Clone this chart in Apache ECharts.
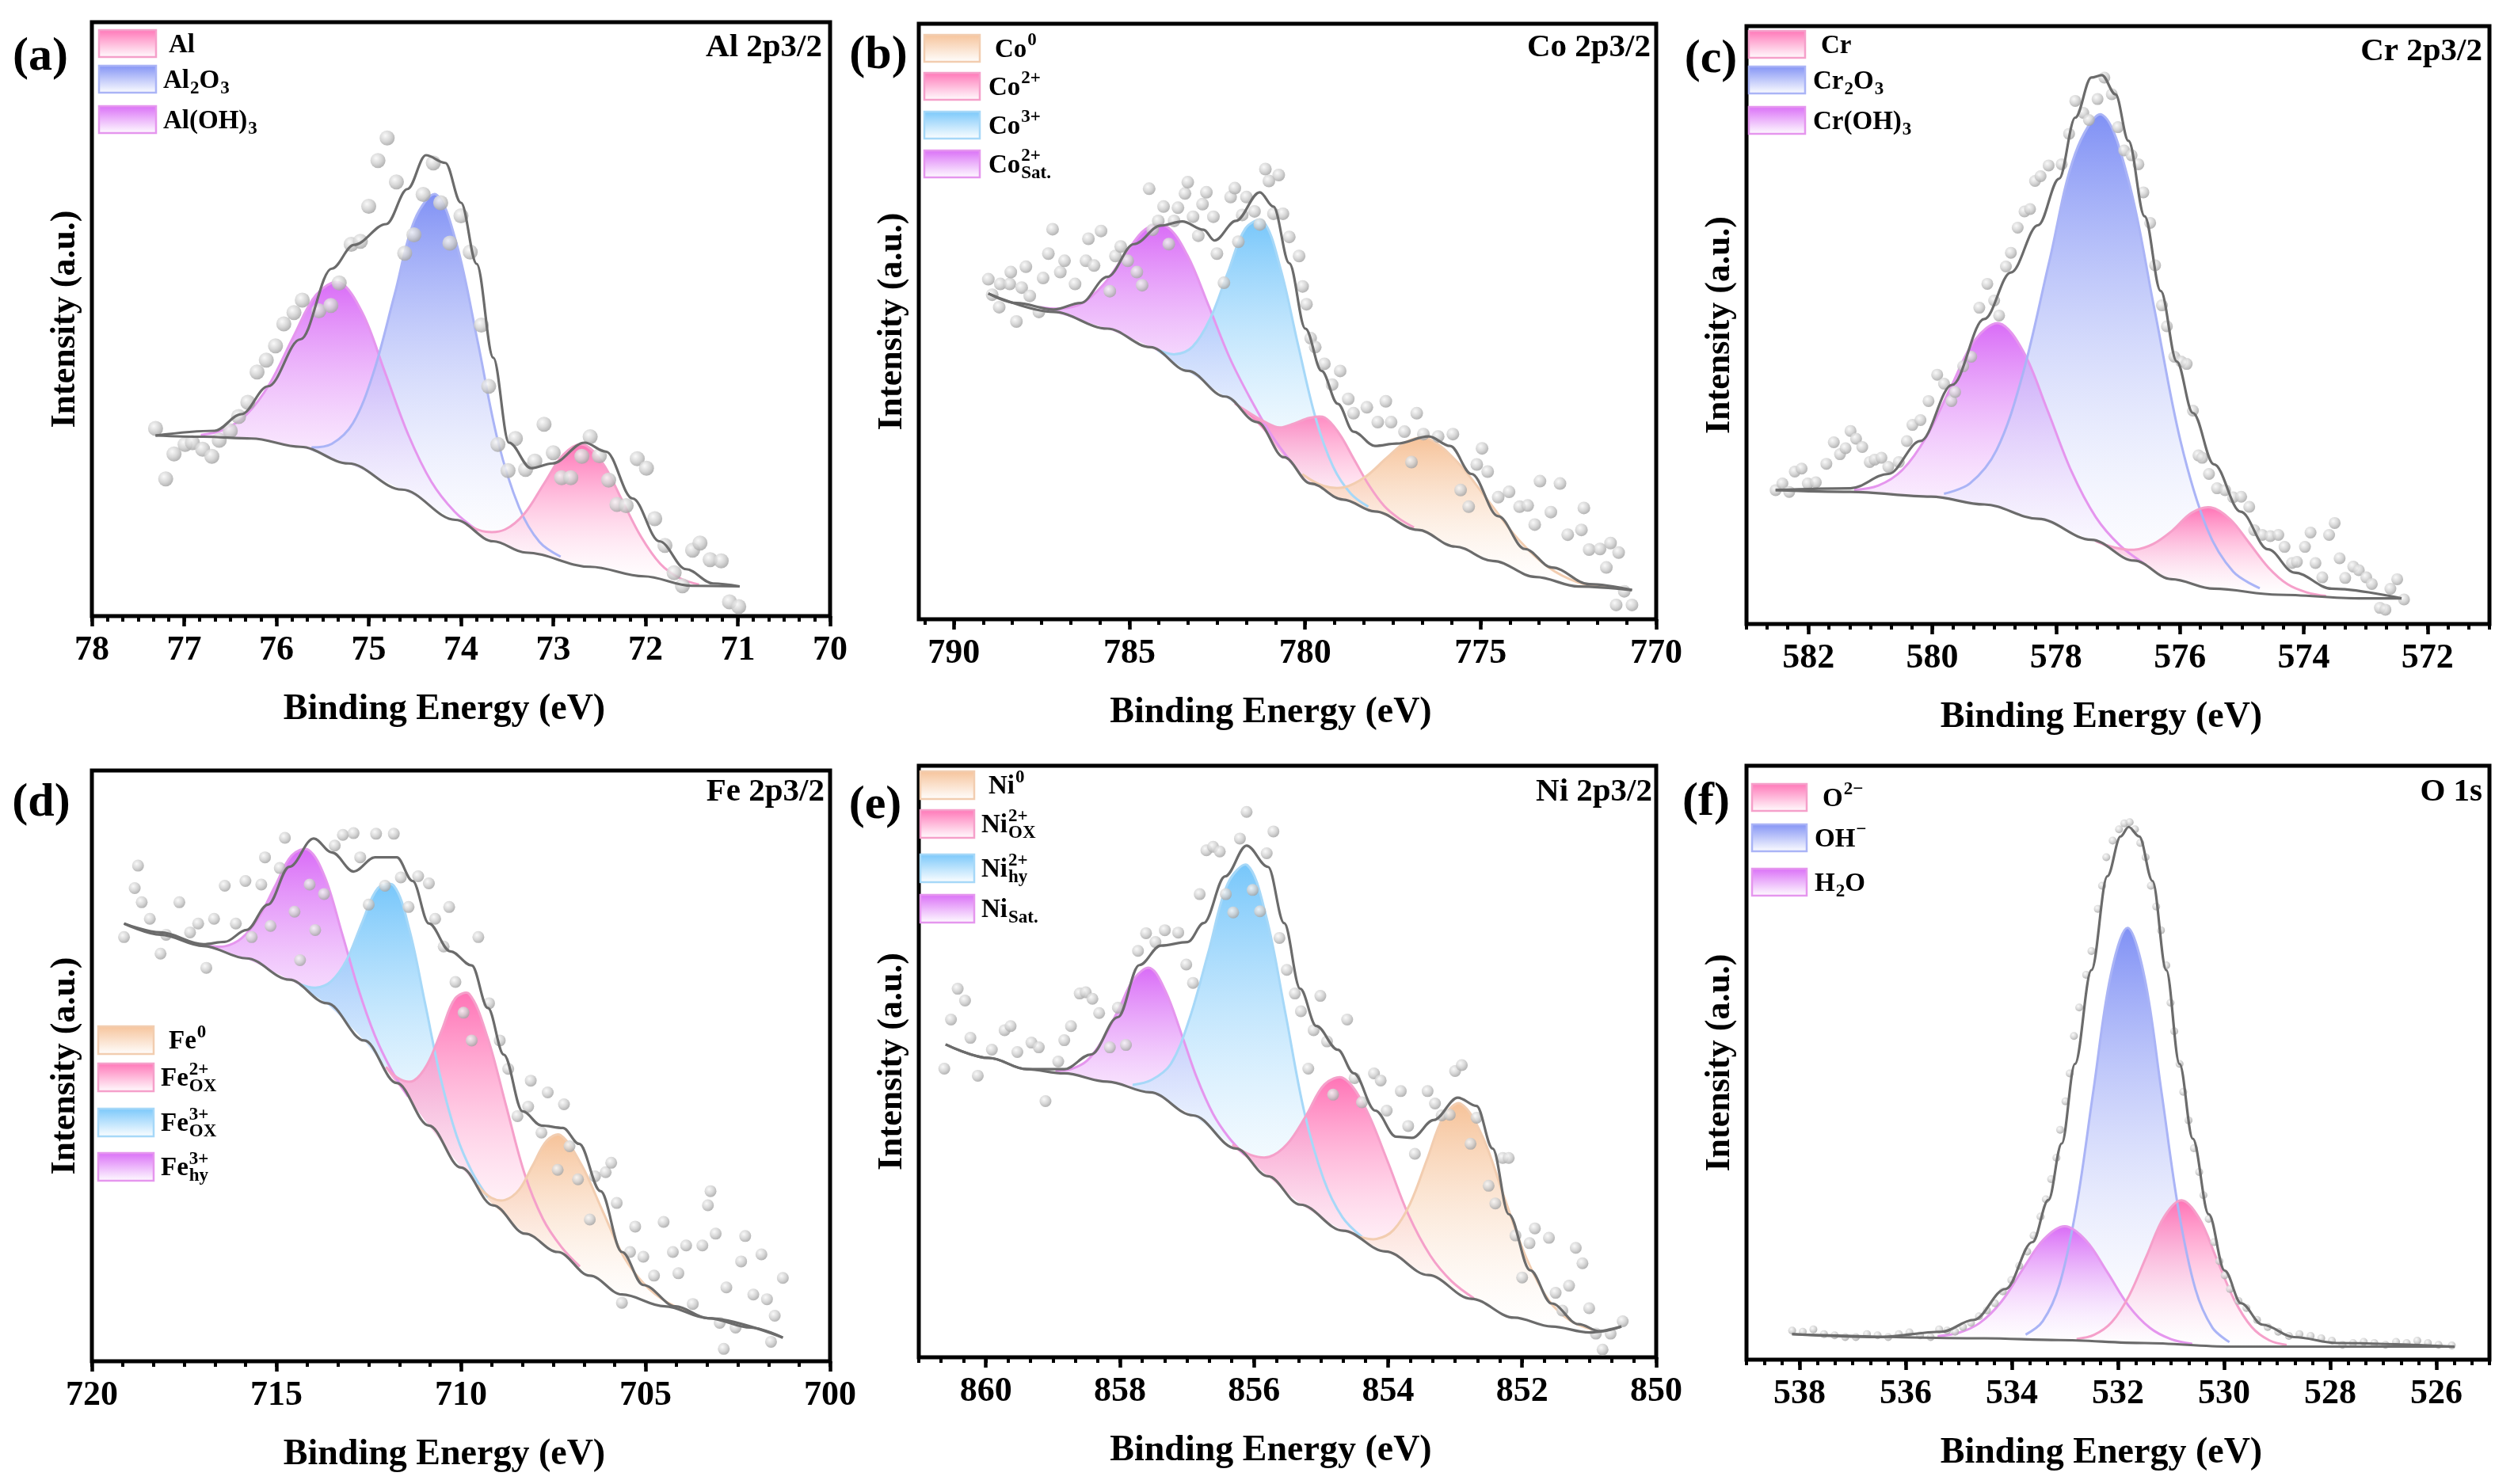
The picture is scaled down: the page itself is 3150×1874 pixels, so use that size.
<!DOCTYPE html>
<html>
<head>
<meta charset="utf-8">
<script src="https://cdn.jsdelivr.net/npm/echarts@6/dist/echarts.min.js"></script>
<style>
  html, body { margin: 0; padding: 0; background: #fff; }
  #chart { width: 3150px; height: 1874px; }
</style>
</head>
<body>
<div id="chart"></div>
<script>
// ---------- tick labels ----------
const AL_TICKS = [70, 71, 72, 73, 74, 75, 76, 77, 78];
const CO_TICKS = [770, 775, 780, 785, 790];
const CR_TICKS = [572, 574, 576, 578, 580, 582];
const FE_TICKS = [700, 705, 710, 715, 720];
const NI_TICKS = [850, 852, 854, 856, 858, 860];
const O_TICKS = [526, 528, 530, 532, 534, 536, 538];

// ---------- (a) Al 2p3/2 ----------  [binding energy, intensity]
const alDots = [[77.31,31.6],[77.20,23.1],[77.11,27.3],[76.99,28.9],[76.91,29.2],[76.80,28.1],[76.70,26.9],[76.62,29.6],[76.50,31.2],[76.41,33.6],[76.31,36.0],[76.21,41.1],[76.11,43.1],[76.01,45.5],[75.92,49.2],[75.81,51.1],[75.72,53.2],[75.54,51.4],[75.41,52.3],[75.32,56.1],[75.19,62.6],[75.09,63.1],[75.00,69.0],[74.90,76.7],[74.80,80.5],[74.70,73.1],[74.61,61.1],[74.51,64.2],[74.41,71.0],[74.30,76.3],[74.22,69.6],[74.12,62.8],[74.00,67.4],[73.90,61.3],[73.78,49.0],[73.70,38.7],[73.60,28.9],[73.49,24.5],[73.41,29.9],[73.30,24.7],[73.20,26.1],[73.10,32.3],[73.00,27.5],[72.91,23.3],[72.81,23.3],[72.69,26.9],[72.60,30.2],[72.50,27.0],[72.40,22.9],[72.31,18.8],[72.21,18.6],[72.09,26.5],[71.99,24.9],[71.90,16.4],[71.79,11.9],[71.69,7.3],[71.60,5.1],[71.49,11.1],[71.41,12.3],[71.30,9.5],[71.18,9.3],[71.09,2.4],[70.99,1.6]];
const alBackground = [[77.31,30.4],[76.79,30.2],[76.27,29.9],[75.74,28.5],[75.22,25.7],[74.64,21.3],[74.06,16.2],[73.65,12.6],[73.30,10.7],[72.60,8.3],[72.02,6.7],[71.50,5.1],[70.98,5.0]];
const alEnvelope = [[77.31,30.4],[76.67,31.2],[76.38,34.0],[76.09,38.7],[75.74,46.6],[75.40,58.5],[75.16,62.5],[74.81,66.0],[74.58,71.9],[74.38,77.6],[74.17,76.3],[74.00,69.6],[73.83,59.3],[73.65,43.5],[73.48,29.2],[73.24,24.9],[73.01,25.7],[72.66,29.2],[72.43,27.7],[72.14,19.8],[71.85,12.6],[71.56,7.9],[71.27,5.5],[70.98,5.0]];
// peaks: [binding energy, background under the peak, peak height above background]
const alOH3Peak = [[76.82,30.2,0.3],[76.57,30.1,1.3],[76.32,29.9,4.1],[76.07,29.4,9.8],[75.82,28.7,18.2],[75.57,27.6,26.5],[75.32,26.2,30],[75.07,24.6,26.5],[74.82,22.7,18.2],[74.57,20.7,9.8],[74.32,18.5,4.1],[74.07,16.3,1.3],[73.82,14.1,0.3]];
const al2O3Peak = [[75.62,27.8,0.6],[75.40,26.7,2.3],[75.17,25.3,7.2],[74.95,23.7,17.2],[74.72,21.9,32.2],[74.50,20.1,46.7],[74.27,18.0,53],[74.05,16.1,46.7],[73.82,14.1,32.2],[73.60,12.3,17.2],[73.37,11.1,7.2],[73.15,10.2,2.3],[72.92,9.4,0.6]];
const alMetalPeak = [[73.94,15.2,0.2],[73.73,13.3,0.9],[73.52,11.9,2.7],[73.31,10.7,6.6],[73.10,10.0,12.3],[72.89,9.3,17.9],[72.68,8.6,20.3],[72.47,8.0,17.9],[72.26,7.4,12.3],[72.05,6.8,6.6],[71.84,6.1,2.7],[71.63,5.5,0.9],[71.42,5.1,0.2]];

// ---------- (b) Co 2p3/2 ----------
const coDots = [[789.02,57.1],[788.91,54.5],[788.71,52.4],[788.68,56.3],[788.41,56.3],[788.38,58.3],[788.22,50.0],[788.07,55.7],[787.95,59.2],[787.84,54.3],[787.58,51.6],[787.46,57.3],[787.31,61.4],[787.19,65.5],[786.97,58.3],[786.85,60.2],[786.55,56.3],[786.24,60.2],[786.17,63.9],[786.01,59.4],[785.81,65.2],[785.56,55.1],[785.40,61.0],[785.25,62.6],[785.05,60.2],[784.79,58.3],[784.64,56.1],[784.44,72.3],[784.34,65.4],[784.18,66.9],[784.03,69.3],[783.88,63.0],[783.73,66.9],[783.62,69.1],[783.42,71.5],[783.34,73.4],[783.19,67.6],[783.04,64.4],[782.92,69.7],[782.81,71.7],[782.61,67.6],[782.51,61.4],[782.31,56.5],[782.12,70.9],[782.00,72.4],[781.90,63.4],[781.79,67.9],[781.67,70.9],[781.44,68.5],[781.29,66.3],[781.13,75.6],[781.03,73.6],[780.90,68.1],[780.75,74.6],[780.63,68.1],[780.45,64.2],[780.17,61.0],[780.07,55.9],[779.96,52.9],[779.84,47.2],[779.71,45.7],[779.45,42.9],[779.23,39.4],[779.00,41.7],[778.77,37.0],[778.62,34.6],[778.24,35.6],[777.93,33.1],[777.70,36.6],[777.55,33.1],[777.17,31.5],[776.97,26.4],[776.82,34.6],[776.63,31.1],[776.21,30.7],[775.79,31.1],[775.57,21.7],[775.34,18.9],[775.11,26.0],[774.96,28.7],[774.80,24.8],[774.50,20.5],[774.19,21.4],[773.89,18.9],[773.66,19.1],[773.46,15.9],[773.31,23.2],[773.00,18.0],[772.74,22.8],[772.52,14.2],[772.13,15.0],[772.06,18.7],[771.91,11.7],[771.60,11.8],[771.42,8.7],[771.30,12.8],[771.07,11.2],[770.91,4.7],[770.69,2.4],[771.14,2.4]];
const coBackground = [[789.02,54.7],[787.16,51.6],[785.63,48.8],[784.41,45.7],[783.34,41.7],[782.28,37.4],[781.36,33.1],[780.60,27.2],[779.84,22.8],[778.92,20.1],[778.01,18.1],[776.79,15.0],[775.72,12.2],[774.65,9.8],[773.43,7.1],[772.21,5.5],[770.69,4.9]];
const coEnvelope = [[789.02,54.7],[788.22,53.1],[787.16,52.0],[786.39,53.1],[785.63,57.5],[784.87,63.0],[784.11,66.1],[783.50,66.8],[782.89,65.4],[782.58,63.6],[781.97,66.9],[781.29,71.7],[780.90,69.3],[780.45,59.8],[779.99,48.8],[779.53,41.7],[779.07,36.2],[778.62,31.5],[778.01,29.1],[777.40,29.5],[776.48,30.7],[775.87,29.1],[775.26,24.4],[774.50,17.3],[773.74,11.8],[772.97,8.7],[771.91,5.9],[770.69,4.9]];
const coSatPeak = [[787.55,52.2,0.24],[786.95,51.2,0.97],[786.35,50.1,2.97],[785.75,49.0,7.15],[785.15,47.6,13.4],[784.55,46.1,19.4],[783.95,44.0,22],[783.35,41.7,19.4],[782.75,39.3,13.4],[782.15,36.8,7.15],[781.55,34.0,2.97],[780.95,29.9,0.97],[780.35,25.8,0.24]];
const co3Peak = [[784.2,44.9,0.4],[783.7,43.0,1.5],[783.2,41.1,4.7],[782.7,39.1,11.4],[782.2,37.0,21.2],[781.7,34.7,30.9],[781.2,31.9,35],[780.7,28.0,30.9],[780.2,24.9,21.2],[779.7,22.4,11.4],[779.2,20.9,4.7],[778.7,19.6,1.5],[778.2,18.5,0.4]];
const co2Peak = [[782.0,36.1,0.13],[781.58,34.1,0.54],[781.15,31.5,1.65],[780.73,28.2,4.0],[780.3,25.5,7.4],[779.88,23.0,10.8],[779.45,21.7,12.2],[779.03,20.4,10.8],[778.6,19.4,7.4],[778.18,18.5,4.0],[777.75,17.4,1.65],[777.33,16.4,0.54],[776.9,15.3,0.13]];
const co0Peak = [[780.08,24.2,0.18],[779.48,21.7,0.71],[778.88,20.0,2.17],[778.28,18.7,5.23],[777.68,17.3,9.77],[777.08,15.7,14.2],[776.48,14.2,16.1],[775.63,12.0,14.2],[774.78,10.1,9.77],[773.93,8.2,5.23],[773.08,6.6,2.17],[772.23,5.5,0.71],[771.38,5.2,0.18]];

// ---------- (c) Cr 2p3/2 ----------
const crDots = [[582.53,22.4],[582.42,23.5],[582.31,22.1],[582.22,25.5],[582.11,26.0],[582.01,23.5],[581.88,23.7],[581.71,26.8],[581.59,30.4],[581.49,28.4],[581.40,29.4],[581.32,32.3],[581.23,31.0],[581.13,29.6],[581.01,27.1],[580.93,27.5],[580.82,27.8],[580.71,26.3],[580.54,27.1],[580.41,30.6],[580.32,33.3],[580.19,34.1],[580.06,37.3],[579.92,41.7],[579.81,40.2],[579.69,37.3],[579.63,38.8],[579.50,43.1],[579.37,44.7],[579.24,52.9],[579.11,56.9],[579.00,54.1],[578.92,51.6],[578.81,59.8],[578.73,62.1],[578.62,66.3],[578.51,69.0],[578.42,69.4],[578.34,74.1],[578.25,74.9],[578.12,76.7],[577.91,76.9],[577.79,82.0],[577.69,87.5],[577.56,85.5],[577.47,84.3],[577.33,87.8],[577.22,91.4],[577.10,88.6],[577.00,83.1],[576.90,79.2],[576.78,78.4],[576.67,76.9],[576.59,72.2],[576.48,67.1],[576.40,60.0],[576.29,53.3],[576.21,49.8],[576.09,44.7],[575.98,43.9],[575.89,43.5],[575.79,35.7],[575.70,28.2],[575.64,27.8],[575.53,25.1],[575.40,22.7],[575.27,22.4],[575.14,21.2],[575.01,21.3],[574.88,19.6],[574.80,15.7],[574.67,14.9],[574.54,14.7],[574.41,14.9],[574.31,12.9],[574.19,10.2],[574.11,10.4],[573.98,12.9],[573.89,15.3],[573.81,10.2],[573.70,7.8],[573.59,14.9],[573.50,16.9],[573.42,11.0],[573.33,7.7],[573.20,9.6],[573.11,9.0],[572.99,7.8],[572.90,6.7],[572.77,2.7],[572.68,2.4],[572.60,5.9],[572.49,7.5],[572.38,4.1]];
const crBackground = [[582.53,22.4],[581.32,22.1],[580.02,21.3],[579.16,20.0],[578.29,17.6],[577.43,14.1],[576.74,10.6],[576.14,7.5],[575.45,5.9],[574.41,4.9],[573.11,4.3],[572.42,4.3]];
const crEnvelope = [[582.53,22.4],[581.32,22.7],[580.71,25.1],[580.19,30.6],[579.68,40.0],[579.16,51.0],[578.73,58.8],[578.29,66.7],[577.95,74.5],[577.69,84.7],[577.43,91.4],[577.26,91.8],[577.04,88.6],[576.83,80.8],[576.57,68.2],[576.31,55.7],[576.05,43.9],[575.79,35.3],[575.45,26.7],[575.02,18.8],[574.58,12.5],[574.15,8.6],[573.55,5.9],[572.42,4.3]];
const crOH3Peak = [[581.26,22.1,0.34],[580.87,21.8,1.36],[580.48,21.6,4.2],[580.09,21.3,10.1],[579.70,20.8,18.8],[579.31,20.2,27.3],[578.92,19.3,31],[578.53,18.3,27.3],[578.14,17.0,18.8],[577.75,15.4,10.1],[577.36,13.7,4.2],[576.97,11.8,1.36],[576.58,9.8,0.34]];
const cr2O3Peak = [[579.81,21.0,0.79],[579.39,20.35,3.17],[578.96,19.4,9.72],[578.54,18.3,23.4],[578.11,16.9,43.7],[577.69,15.2,63.5],[577.26,13.2,72],[576.84,11.1,63.5],[576.41,8.9,43.7],[575.99,7.2,23.4],[575.56,6.2,9.72],[575.14,5.6,3.17],[574.71,5.2,0.79]];
const crMetalPeak = [[577.36,13.7,0.15],[577.05,12.2,0.59],[576.74,10.6,1.82],[576.43,9.0,4.4],[576.12,7.45,8.2],[575.81,6.7,11.9],[575.5,6.0,13.5],[575.19,5.65,11.9],[574.88,5.35,8.2],[574.57,5.05,4.4],[574.26,4.83,1.82],[573.95,4.7,0.59],[573.64,4.55,0.15]];

// ---------- (d) Fe 2p3/2 ----------
const feDots = [[719.13,71.8],[718.84,80.1],[718.75,83.9],[718.65,77.7],[718.43,74.9],[718.14,69.0],[717.99,72.2],[717.63,77.7],[717.34,72.6],[717.12,74.1],[716.90,66.6],[716.69,74.9],[716.40,80.5],[716.10,74.1],[715.84,81.3],[715.67,71.8],[715.41,80.7],[715.31,85.3],[715.16,73.7],[714.91,83.5],[714.77,88.6],[714.51,76.1],[714.36,67.9],[714.10,80.7],[713.95,73.0],[713.71,79.1],[713.42,87.3],[713.20,89.1],[712.91,89.4],[712.73,85.3],[712.50,77.3],[712.30,89.3],[712.06,80.5],[711.82,89.3],[711.63,81.9],[711.42,76.9],[711.16,82.1],[710.87,80.9],[710.70,74.9],[710.47,70.2],[710.32,76.9],[710.15,64.2],[709.93,59.0],[709.71,54.3],[709.53,71.8],[709.24,60.6],[708.95,54.3],[708.72,49.5],[708.47,41.5],[708.18,43.1],[708.11,47.5],[707.82,38.7],[707.65,45.5],[707.38,32.4],[707.21,43.5],[707.06,36.4],[706.83,30.8],[706.51,24.0],[706.37,31.3],[706.08,32.0],[705.93,33.6],[705.78,26.8],[705.64,9.9],[705.42,18.5],[705.28,22.8],[705.06,17.7],[704.77,14.5],[704.51,23.6],[704.26,18.5],[704.11,14.9],[703.90,19.6],[703.72,9.7],[703.46,19.6],[703.31,26.4],[703.24,28.8],[703.10,21.6],[702.99,6.5],[702.81,12.5],[702.56,5.7],[702.41,16.9],[702.30,21.2],[702.08,11.3],[701.86,18.1],[701.71,10.5],[701.60,3.3],[701.50,7.7],[701.28,14.1],[702.88,2.1]];
const feBackground = [[719.13,74.1],[718.14,72.2],[716.98,70.3],[715.81,68.2],[714.65,64.6],[713.63,60.6],[712.62,54.3],[711.74,47.1],[710.87,39.9],[710.00,32.8],[709.13,26.4],[708.26,21.6],[707.38,18.5],[706.51,14.5],[705.64,11.3],[704.48,9.3],[703.31,7.3],[702.15,5.7],[701.28,4.0]];
const feEnvelope = [[719.13,74.1],[718.14,72.6],[716.98,70.6],[716.40,71.0],[715.81,73.0],[715.23,77.3],[714.65,83.7],[713.99,88.5],[713.49,86.1],[712.91,82.9],[712.33,85.3],[711.74,85.3],[711.31,81.3],[710.87,74.1],[710.29,69.4],[709.71,67.0],[709.27,59.8],[708.84,51.9],[708.33,42.3],[707.82,39.9],[707.24,39.5],[706.80,36.8],[706.22,28.8],[705.64,18.5],[705.06,12.9],[704.19,9.3],[703.31,7.3],[701.28,4.0]];
const feHyPeak = [[716.84,70.05,0.26],[716.39,69.2,1.06],[715.94,68.4,3.24],[715.49,67.2,7.8],[715.04,65.8,14.6],[714.59,64.4,21.2],[714.14,62.6,24],[713.69,60.8,21.2],[713.24,58.2,14.6],[712.79,55.4,7.8],[712.34,52.0,3.24],[711.89,48.3,1.06],[711.44,44.6,0.26]];
const fe3OxPeak = [[714.37,63.5,0.36],[713.94,61.8,1.44],[713.52,59.9,4.4],[713.10,57.3,10.6],[712.67,54.6,19.8],[712.25,51.3,28.8],[711.82,47.8,32.7],[711.40,44.3,28.8],[710.97,40.7,19.8],[710.55,37.3,10.6],[710.12,33.8,4.4],[709.70,30.6,1.44],[709.27,27.4,0.36]];
const fe2OxPeak = [[712.03,49.5,0.34],[711.66,46.4,1.36],[711.28,43.3,4.2],[710.91,40.2,10.1],[710.53,37.1,18.8],[710.16,34.1,27.3],[709.78,31.2,31],[709.28,27.5,27.3],[708.78,24.5,18.8],[708.28,21.7,10.1],[707.78,19.9,4.2],[707.28,18.0,1.36],[706.78,15.7,0.34]];
const fe0Peak = [[709.56,29.6,0.22],[709.18,26.8,0.88],[708.81,24.6,2.7],[708.43,22.5,6.5],[708.06,20.9,12.2],[707.68,19.6,17.7],[707.31,18.2,20.1],[706.74,15.6,17.7],[706.16,13.2,12.2],[705.59,11.2,6.5],[705.01,10.2,2.7],[704.44,9.2,0.88],[703.86,8.2,0.22]];

// ---------- (e) Ni 2p3/2 ----------
const niDots = [[860.62,48.8],[860.52,57.1],[860.42,62.3],[860.31,60.3],[860.23,54.0],[860.12,47.6],[859.91,52.0],[859.72,55.3],[859.63,56.0],[859.53,51.6],[859.32,53.2],[859.21,52.4],[859.11,43.3],[858.92,50.0],[858.83,53.6],[858.73,56.0],[858.60,61.5],[858.51,61.7],[858.41,60.6],[858.31,58.2],[858.15,52.4],[858.03,59.1],[857.91,52.8],[857.73,68.7],[857.61,71.7],[857.47,70.2],[857.33,72.2],[857.13,71.8],[857.01,66.4],[856.91,63.3],[856.81,78.3],[856.71,85.7],[856.61,86.3],[856.51,85.5],[856.42,78.3],[856.31,75.2],[856.21,87.7],[856.11,92.2],[856.02,79.0],[855.91,75.4],[855.81,85.2],[855.71,88.9],[855.62,70.9],[855.51,65.5],[855.39,61.5],[855.30,58.5],[855.19,48.8],[855.11,55.3],[855.01,61.1],[854.91,53.4],[854.82,44.4],[854.61,57.1],[854.50,47.2],[854.39,43.1],[854.21,48.0],[854.11,46.8],[854.02,41.7],[853.81,45.0],[853.70,39.1],[853.60,34.4],[853.41,45.0],[853.30,42.9],[853.20,40.9],[853.08,41.0],[853.00,48.4],[852.90,49.4],[852.77,36.1],[852.68,40.5],[852.50,29.0],[852.40,26.0],[852.29,33.7],[852.20,33.7],[852.10,20.6],[852.00,13.5],[851.89,19.3],[851.81,21.8],[851.60,20.2],[851.50,10.9],[851.40,7.9],[851.30,12.1],[851.20,18.5],[851.10,15.9],[851.00,8.3],[850.90,4.0],[850.80,1.3],[850.68,4.0],[850.50,6.1]];
const niBackground = [[860.60,52.9],[859.95,50.6],[859.39,48.7],[858.83,48.0],[858.19,46.6],[857.55,44.8],[856.91,40.9],[856.27,35.3],[855.79,30.6],[855.31,25.8],[854.67,21.4],[854.04,17.9],[853.40,13.9],[852.76,9.9],[852.12,6.7],[851.56,5.2],[851.00,4.2],[850.52,5.2]];
const niEnvelope = [[860.60,52.9],[859.95,50.6],[859.39,48.7],[858.83,48.7],[858.43,51.2],[858.03,57.5],[857.71,66.3],[857.39,69.6],[856.99,70.2],[856.75,73.4],[856.43,81.3],[856.11,86.5],[855.79,82.9],[855.55,73.4],[855.31,62.3],[855.07,56.0],[854.75,52.0],[854.51,48.0],[854.19,41.7],[853.88,37.3],[853.64,37.1],[853.32,40.1],[852.96,43.9],[852.68,42.5],[852.44,35.3],[852.20,24.2],[851.88,14.7],[851.56,9.1],[851.16,5.6],[850.84,4.4],[850.52,5.2]];
const niSatPeak = [[858.96,48.2,0.23],[858.73,47.8,0.92],[858.49,47.3,2.84],[858.26,46.8,6.8],[858.02,46.1,12.7],[857.79,45.5,18.5],[857.55,44.8,21],[857.32,43.4,18.5],[857.08,41.9,12.7],[856.85,40.4,6.8],[856.61,38.3,2.84],[856.38,36.3,0.92],[856.14,34.0,0.23]];
const niHyPeak = [[857.81,45.5,0.55],[857.53,44.7,2.18],[857.24,42.9,6.7],[856.96,41.2,16.1],[856.67,38.8,30.1],[856.39,36.4,43.7],[856.10,33.6,49.6],[855.82,30.9,43.7],[855.53,28.0,30.1],[855.25,25.4,16.1],[854.96,23.4,6.7],[854.68,21.5,2.18],[854.39,19.8,0.55]];
const niOxPeak = [[856.32,35.7,0.28],[856.05,33.1,1.13],[855.77,30.4,3.5],[855.50,27.7,8.4],[855.22,25.2,15.7],[854.95,23.3,22.8],[854.67,21.4,25.8],[854.35,19.6,22.8],[854.02,17.8,15.7],[853.70,15.8,8.4],[853.37,13.7,3.5],[853.05,11.7,1.13],[852.72,9.7,0.28]];
const ni0Peak = [[854.42,20.0,0.35],[854.17,18.6,1.41],[853.92,17.2,4.3],[853.67,15.6,10.4],[853.42,14.0,19.4],[853.17,12.5,28.2],[852.92,10.9,32],[852.59,9.1,28.2],[852.26,7.4,19.4],[851.93,6.2,10.4],[851.60,5.3,4.3],[851.27,4.7,1.41],[850.94,4.3,0.35]];

// ---------- (f) O 1s ----------
const oDots = [[538.14,4.9],[537.94,4.7],[537.74,5.1],[537.54,4.3],[537.34,4.1],[537.14,3.8],[536.94,3.8],[536.73,4.3],[536.53,4.1],[536.33,3.8],[536.13,4.3],[535.93,4.6],[535.73,4.1],[535.53,3.8],[535.37,5.1],[535.22,4.9],[535.07,4.7],[534.92,5.5],[534.77,6.2],[534.62,7.3],[534.47,8.3],[534.32,9.5],[534.17,11.5],[534.01,13.4],[533.86,15.8],[533.71,18.2],[533.59,20.9],[533.46,24.1],[533.36,27.0],[533.26,30.4],[533.16,34.0],[533.09,38.7],[532.99,43.5],[532.91,48.2],[532.83,54.5],[532.73,59.3],[532.60,64.8],[532.50,68.8],[532.38,75.9],[532.30,79.8],[532.22,84.6],[532.10,87.4],[531.98,89.3],[531.88,90.3],[531.78,90.5],[531.68,89.3],[531.58,87.0],[531.48,84.6],[531.38,79.8],[531.28,76.3],[531.19,72.3],[531.09,66.4],[531.01,60.1],[530.94,55.3],[530.84,49.8],[530.77,45.1],[530.67,40.3],[530.57,35.6],[530.47,31.6],[530.39,27.7],[530.29,23.7],[530.19,19.8],[530.09,16.6],[529.99,14.2],[529.89,11.9],[529.73,9.9],[529.58,8.7],[529.38,6.7],[529.18,5.5],[528.98,4.7],[528.78,4.0],[528.58,4.3],[528.37,4.0],[528.17,3.6],[527.97,3.2],[527.77,2.5],[527.57,2.8],[527.37,3.0],[527.17,2.8],[526.96,2.5],[526.76,3.0],[526.56,2.8],[526.36,3.2],[526.16,2.8],[525.96,2.5],[525.71,2.4]];
const oBackground = [[538.14,4.3],[534.52,3.6],[533.11,3.3],[531.50,2.8],[529.89,2.2],[527.47,2.2],[525.66,2.2]];
const oEnvelope = [[538.14,4.3],[536.53,3.8],[535.32,4.7],[534.72,6.7],[534.12,11.9],[533.61,19.8],[533.31,26.9],[533.06,36.4],[532.81,49.8],[532.50,65.6],[532.20,81.4],[531.95,88.1],[531.80,89.7],[531.60,88.1],[531.35,80.6],[531.09,65.6],[530.84,49.8],[530.59,37.2],[530.29,24.5],[529.99,15.0],[529.68,9.5],[529.28,5.9],[528.68,3.8],[527.87,2.8],[525.66,2.2]];
const ohPeak = [[533.74,3.44,0.77],[533.42,3.37,3.07],[533.10,3.30,9.4],[532.78,3.20,22.7],[532.46,3.10,42.4],[532.14,3.00,61.6],[531.82,2.90,69.8],[531.50,2.80,61.6],[531.18,2.68,42.4],[530.86,2.56,22.7],[530.54,2.44,9.4],[530.22,2.32,3.07],[529.90,2.20,0.77]];
const h2oPeak = [[535.4,3.77,0.21],[535.0,3.69,0.84],[534.6,3.62,2.6],[534.2,3.53,6.2],[533.8,3.45,11.7],[533.4,3.36,16.9],[533.0,3.27,19.2],[532.6,3.14,16.9],[532.2,3.02,11.7],[531.8,2.89,6.2],[531.4,2.76,2.6],[531.0,2.61,0.84],[530.6,2.47,0.21]];
const oxidePeak = [[532.78,3.20,0.27],[532.45,3.10,1.07],[532.12,2.99,3.3],[531.79,2.89,7.9],[531.46,2.79,14.7],[531.13,2.66,21.4],[530.80,2.54,24.3],[530.47,2.42,21.4],[530.14,2.29,14.7],[529.81,2.2,7.9],[529.48,2.2,3.3],[529.15,2.2,1.07],[528.82,2.2,0.27]];

// ---------- legend labels ----------
const alLegend = [
  { c: 'pink', parts: [{ n: 'Al' }] },
  { c: 'blue', parts: [{ n: 'Al' }, { sub: '2' }, { n: 'O' }, { sub: '3' }] },
  { c: 'purple', parts: [{ n: 'Al(OH)' }, { sub: '3' }] }
];
const coLegend = [
  { c: 'peach', parts: [{ n: 'Co' }, { sup: '0' }] },
  { c: 'pink', parts: [{ n: 'Co' }, { sup: '2+' }] },
  { c: 'sky', parts: [{ n: 'Co' }, { sup: '3+' }] },
  { c: 'purple', parts: [{ n: 'Co' }, { sup: '2+', sub: 'Sat.' }] }
];
const crLegend = [
  { c: 'pink', parts: [{ n: 'Cr' }] },
  { c: 'blue', parts: [{ n: 'Cr' }, { sub: '2' }, { n: 'O' }, { sub: '3' }] },
  { c: 'purple', parts: [{ n: 'Cr(OH)' }, { sub: '3' }] }
];
const feLegend = [
  { c: 'peach', parts: [{ n: 'Fe' }, { sup: '0' }] },
  { c: 'pink', parts: [{ n: 'Fe' }, { sup: '2+', sub: 'OX' }] },
  { c: 'sky', parts: [{ n: 'Fe' }, { sup: '3+', sub: 'OX' }] },
  { c: 'purple', parts: [{ n: 'Fe' }, { sup: '3+', sub: 'hy' }] }
];
const niLegend = [
  { c: 'peach', parts: [{ n: 'Ni' }, { sup: '0' }] },
  { c: 'pink', parts: [{ n: 'Ni' }, { sup: '2+', sub: 'OX' }] },
  { c: 'sky', parts: [{ n: 'Ni' }, { sup: '2+', sub: 'hy' }] },
  { c: 'purple', parts: [{ n: 'Ni' }, { sub: 'Sat.' }] }
];
const oLegend = [
  { c: 'pink', parts: [{ n: 'O' }, { sup: '2\u2212' }] },
  { c: 'blue', parts: [{ n: 'OH' }, { sup: '\u2212' }] },
  { c: 'purple', parts: [{ n: 'H' }, { sub: '2' }, { n: 'O' }] }
];

// ---------- styling / layout ----------
const FONT = '"Liberation Serif", "Times New Roman", serif';
const PAL = {
  pink:   { top: 'rgba(255,104,176,0.92)', line: '#f5a0ca' },
  blue:   { top: 'rgba(118,136,244,0.92)', line: '#aab4f6' },
  purple: { top: 'rgba(214,96,246,0.92)',  line: '#e596ee' },
  sky:    { top: 'rgba(108,194,250,0.92)', line: '#a6d8f8' },
  peach:  { top: 'rgba(245,188,142,0.9)',  line: '#f2cdb0' }
};

const PANELS = [
  { grid: [116, 28, 932, 750], min: 70, max: 78, ticks: AL_TICKS, minor: 1 / 6,
    label: '(a)', labelPos: [51, 72], title: 'Al 2p3/2', titlePos: [1038, 60],
    dots: alDots, dot: 19, bg: alBackground, env: alEnvelope,
    peaks: [[alOH3Peak, 'purple'], [al2O3Peak, 'blue'], [alMetalPeak, 'pink']],
    legend: alLegend, box: [125, 72, 34], tops: [38, 83, 134], textX: [213, 206, 206] },
  { grid: [1160, 30, 931, 752], min: 770, max: 791, ticks: CO_TICKS, minor: 5 / 6,
    label: '(b)', labelPos: [1109, 70], title: 'Co 2p3/2', titlePos: [2084, 60],
    dots: coDots, dot: 16, bg: coBackground, env: coEnvelope,
    peaks: [[coSatPeak, 'purple'], [co3Peak, 'sky'], [co2Peak, 'pink'], [co0Peak, 'peach']],
    legend: coLegend, box: [1167, 70, 34], tops: [44, 92, 141, 190], textX: [1256, 1248, 1248, 1248] },
  { grid: [2205, 33, 938, 755], min: 571, max: 583, ticks: CR_TICKS, minor: 1 / 3,
    label: '(c)', labelPos: [2160, 75], title: 'Cr 2p3/2', titlePos: [3134, 65],
    dots: crDots, dot: 15, bg: crBackground, env: crEnvelope,
    peaks: [[crOH3Peak, 'purple'], [cr2O3Peak, 'blue'], [crMetalPeak, 'pink']],
    legend: crLegend, box: [2208, 71, 34], tops: [39, 84, 135], textX: [2299, 2289, 2289] },
  { grid: [116, 973, 932, 746], min: 700, max: 720, ticks: FE_TICKS, minor: 5 / 6,
    label: '(d)', labelPos: [52, 1014], title: 'Fe 2p3/2', titlePos: [1041, 1000],
    dots: feDots, dot: 15, bg: feBackground, env: feEnvelope,
    peaks: [[feHyPeak, 'purple'], [fe3OxPeak, 'sky'], [fe2OxPeak, 'pink'], [fe0Peak, 'peach']],
    legend: feLegend, box: [124, 70, 35], tops: [1296, 1343, 1400, 1456], textX: [213, 203, 203, 203] },
  { grid: [1160, 967, 931, 747], min: 850, max: 861, ticks: NI_TICKS, minor: 1 / 3,
    label: '(e)', labelPos: [1105, 1017], title: 'Ni 2p3/2', titlePos: [2086, 1000],
    dots: niDots, dot: 15, bg: niBackground, env: niEnvelope,
    peaks: [[niSatPeak, 'purple'], [niHyPeak, 'sky'], [niOxPeak, 'pink'], [ni0Peak, 'peach']],
    legend: niLegend, box: [1162, 68, 35], tops: [974, 1023, 1079, 1130], textX: [1248, 1239, 1239, 1239] },
  { grid: [2205, 967, 938, 750], min: 525, max: 539, ticks: O_TICKS, minor: 1 / 3,
    label: '(f)', labelPos: [2154, 1013], title: 'O 1s', titlePos: [3134, 1000],
    dots: oDots, dot: 10, bg: oBackground, env: oEnvelope,
    peaks: [[ohPeak, 'blue'], [h2oPeak, 'purple'], [oxidePeak, 'pink']],
    legend: oLegend, box: [2212, 69, 34], tops: [990, 1041, 1097], textX: [2301, 2291, 2291] }
];

function minorTicks(min, max, step) {
  const out = [];
  for (let k = 0; min + k * step <= max + 1e-9; k++) out.push(+(min + k * step).toFixed(4));
  return out;
}

function areaFill(c, bottomAlpha) {
  return new echarts.graphic.LinearGradient(0, 0, 0, 1, [
    { offset: 0, color: PAL[c].top },
    { offset: 1, color: 'rgba(255,255,255,' + bottomAlpha + ')' }
  ]);
}

// fitted component: filled between background and background + peak
function peakSeries(gi, rows, c) {
  return {
    type: 'custom', xAxisIndex: gi * 2, yAxisIndex: gi, z: 2, silent: true,
    data: rows.map(r => [r[0], r[1] + r[2], r[1]]),
    encode: { x: 0, y: 1 },
    renderItem: function (params, api) {
      if (params.dataIndex !== 0) return null;
      const top = [], base = [];
      for (let i = 0; i < params.dataInsideLength; i++) {
        top.push(api.coord([api.value(0, i), api.value(1, i)]));
        base.push(api.coord([api.value(0, i), api.value(2, i)]));
      }
      return {
        type: 'group',
        children: [
          { type: 'polygon', z2: 0, shape: { points: top.concat(base.slice().reverse()), smooth: 0.35 },
            style: { fill: areaFill(c, 0.25), stroke: null } },
          { type: 'polyline', z2: 10, shape: { points: top, smooth: 0.35 },
            style: { stroke: PAL[c].line, lineWidth: 3, fill: null } }
        ]
      };
    }
  };
}

function dotSeries(gi, data, size) {
  return {
    type: 'scatter', xAxisIndex: gi * 2, yAxisIndex: gi, data: data, symbolSize: size, z: 3, silent: true,
    itemStyle: {
      color: new echarts.graphic.RadialGradient(0.38, 0.34, 0.7, [
        { offset: 0, color: '#f8f8f8' }, { offset: 0.55, color: '#d0d0d0' }, { offset: 1, color: '#a2a2a2' }
      ]),
      opacity: 0.85
    }
  };
}

function curveSeries(gi, data) {
  return {
    type: 'line', xAxisIndex: gi * 2, yAxisIndex: gi, data: data, smooth: 0.35, smoothMonotone: 'x',
    symbol: 'none', z: 4, silent: true, lineStyle: { color: '#6b6b6b', width: 3.2 }
  };
}

// text helpers for legend labels with sub/superscripts
const measure = document.createElement('canvas').getContext('2d');
function textWidth(t, size) {
  measure.font = 'bold ' + size + 'px ' + FONT;
  return measure.measureText(t).width;
}
function txt(t, x, y, size, align) {
  return { type: 'text', silent: true, style: {
    text: t, x: x, y: y, fill: '#000', font: 'bold ' + size + 'px ' + FONT,
    align: align || 'left', verticalAlign: 'middle' } };
}
function labelParts(x, y, parts, size) {
  const els = [];
  const s = Math.round(size * 0.7);
  let cx = x;
  parts.forEach(p => {
    if (p.n) {
      els.push(txt(p.n, cx, y, size));
      cx += textWidth(p.n, size);
    } else {
      let w = 0;
      if (p.sup) { els.push(txt(p.sup, cx + 1, y - size * 0.36, s)); w = textWidth(p.sup, s); }
      if (p.sub) { els.push(txt(p.sub, cx + 1, y + size * 0.3, s)); w = Math.max(w, textWidth(p.sub, s)); }
      cx += w + 1;
    }
  });
  return els;
}

const grids = [], xAxes = [], yAxes = [], series = [], graphics = [];
const nameStyle = { color: '#000', fontFamily: FONT, fontWeight: 'bold', fontSize: 46 };

PANELS.forEach((p, gi) => {
  grids.push({ left: p.grid[0], top: p.grid[1], width: p.grid[2], height: p.grid[3],
    show: true, borderColor: '#000', borderWidth: 5, backgroundColor: 'transparent' });
  xAxes.push({
    type: 'value', gridIndex: gi, min: p.min, max: p.max, inverse: true, position: 'bottom',
    axisLine: { show: false, onZero: false },
    axisTick: { show: true, inside: false, length: 13, customValues: p.ticks, lineStyle: { color: '#000', width: 4.5 } },
    axisLabel: { customValues: p.ticks, margin: 22, color: '#000', fontFamily: FONT, fontWeight: 'bold', fontSize: 44 },
    splitLine: { show: false },
    name: 'Binding Energy (eV)', nameLocation: 'middle', nameGap: 95,
    nameTextStyle: Object.assign({ padding: [0, 42, 0, 0] }, nameStyle)
  });
  xAxes.push({
    type: 'value', gridIndex: gi, min: p.min, max: p.max, inverse: true, position: 'bottom',
    axisLine: { show: false, onZero: false },
    axisTick: { show: true, inside: false, length: 7, customValues: minorTicks(p.min, p.max, p.minor),
      lineStyle: { color: '#000', width: 4 } },
    axisLabel: { show: false }, splitLine: { show: false }
  });
  yAxes.push({
    type: 'value', gridIndex: gi, min: 0, max: 100,
    axisLine: { show: false }, axisTick: { show: false }, axisLabel: { show: false }, splitLine: { show: false },
    name: 'Intensity (a.u.)', nameLocation: 'middle', nameGap: 11, nameRotate: 90,
    nameTextStyle: Object.assign({}, nameStyle, { fontSize: 44 })
  });

  p.peaks.forEach(pk => series.push(peakSeries(gi, pk[0], pk[1])));
  series.push(dotSeries(gi, p.dots, p.dot));
  series.push(curveSeries(gi, p.bg));
  series.push(curveSeries(gi, p.env));

  graphics.push(txt(p.label, p.labelPos[0], p.labelPos[1], 60, 'center'));
  graphics.push(txt(p.title, p.titlePos[0], p.titlePos[1], 41, 'right'));
  p.legend.forEach((item, i) => {
    const bx = p.box[0], bw = p.box[1], bh = p.box[2], by = p.tops[i];
    graphics.push({ type: 'rect', silent: true, shape: { x: bx, y: by, width: bw, height: bh },
      style: { fill: new echarts.graphic.LinearGradient(0, 0, 0, 1, [
        { offset: 0, color: PAL[item.c].top }, { offset: 1, color: 'rgba(255,255,255,0.9)' }]),
        stroke: PAL[item.c].line, lineWidth: 2.5 } });
    labelParts(p.textX[i], by + bh / 2 + 2, item.parts, 33).forEach(el => graphics.push(el));
  });
});

const chart = echarts.init(document.getElementById('chart'), null, { renderer: 'canvas', width: 3150, height: 1874 });
chart.setOption({
  animation: false,
  backgroundColor: '#fff',
  grid: grids,
  xAxis: xAxes,
  yAxis: yAxes,
  series: series,
  graphic: { elements: graphics }
});
</script>
</body>
</html>
